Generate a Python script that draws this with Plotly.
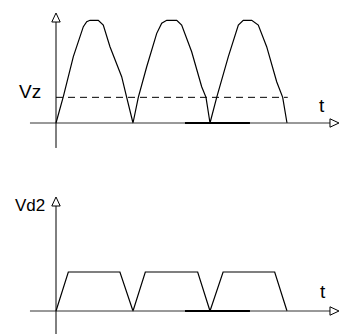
import plotly.graph_objects as go

# ---- data (time in arbitrary units, voltages in arbitrary units) ----
t_vin = [0, 0.95, 2.25, 3.55, 3.99, 4.42, 5.49, 6.14, 7.01, 8.53, 9.18, 10.0,
         10.69, 11.78, 13.08, 13.73, 14.38, 15.68, 16.32, 17.62, 18.92, 19.48, 20.0,
         20.87, 22.38, 23.68, 24.32, 25.42, 26.27, 27.36, 28.66, 29.44, 30.0]
v_vin = [0, 2.56, 6.46, 9.38, 9.87, 10.0, 10.0, 9.54, 7.43, 4.51, 2.50, 0,
         2.50, 5.48, 8.73, 9.71, 10.0, 10.0, 9.54, 6.94, 3.53, 2.50, 0,
         2.50, 6.46, 9.54, 10.0, 10.0, 9.54, 7.43, 4.02, 2.50, 0]

t_vd2 = [0, 1.6, 8.3, 10.0, 11.6, 18.4, 20.0, 21.7, 28.4, 30.0]
v_vd2 = [0, 2.5, 2.5, 0, 2.5, 2.5, 0, 2.5, 2.5, 0]

vz_level = 2.5
vz_span = [0, 30.1]

labels_top = ["Vz", "t"]
labels_bottom = ["Vd2", "t"]

# ---- figure ----
X_RANGE = [-7.273, 37.143]
Y1_RANGE = [-4.284, 11.977]
Y2_RANGE = [-1.474, 9.231]

fig = go.Figure()
line_style = dict(color="black", width=1.2)

fig.add_trace(go.Scatter(x=t_vin, y=v_vin, mode="lines", line=line_style,
                         xaxis="x", yaxis="y", hoverinfo="skip"))
fig.add_trace(go.Scatter(x=vz_span, y=[vz_level, vz_level], mode="lines",
                         line=dict(color="black", width=1, dash="7px,5px"),
                         xaxis="x", yaxis="y", hoverinfo="skip"))
fig.add_trace(go.Scatter(x=t_vd2, y=v_vd2, mode="lines", line=line_style,
                         xaxis="x", yaxis="y2", hoverinfo="skip"))

shapes = []
def axes_shapes(yref, ybottom, ytop_base, ytip, ypx):
    xpx = 7.7
    out = []
    out.append(dict(type="line", xref="x", yref=yref, x0=-3.38, x1=35.58, y0=0, y1=0,
                    line=dict(color="#333", width=1)))
    out.append(dict(type="line", xref="x", yref=yref, x0=16.75, x1=25.19, y0=0, y1=0,
                    line=dict(color="black", width=1.8)))
    hh = 4.2 / ypx
    out.append(dict(type="path", xref="x", yref=yref,
                    path=f"M 35.58 {hh} L 36.75 0 L 35.58 {-hh} Z",
                    fillcolor="white", line=dict(color="black", width=1)))
    out.append(dict(type="line", xref="x", yref=yref, x0=0, x1=0, y0=ybottom, y1=ytop_base,
                    line=dict(color="black", width=1)))
    hw = 4.2 / xpx
    out.append(dict(type="path", xref="x", yref=yref,
                    path=f"M {-hw} {ytop_base} L 0 {ytip} L {hw} {ytop_base} Z",
                    fillcolor="white", line=dict(color="black", width=1)))
    return out

shapes += axes_shapes("y", -2.43, (123 - 22) / 10.27, (123 - 13) / 10.27, 10.27)
shapes += axes_shapes("y2", -1.5, (311 - 206) / 15.6, (311 - 197) / 15.6, 15.6)

family = "Liberation Sans, Arial, Helvetica, sans-serif"
font = dict(family=family, size=19, color="black")
font_vd2 = dict(family=family, size=17, color="black")
annotations = [
    dict(x=-3.44, y=3.02, xref="x", yref="y", text=labels_top[0], showarrow=False,
         xanchor="center", yanchor="middle", font=font),
    dict(x=34.55, y=1.66, xref="x", yref="y", text=labels_top[1], showarrow=False,
         xanchor="center", yanchor="middle", font=font),
    dict(x=-3.38, y=6.76, xref="x", yref="y2", text=labels_bottom[0], showarrow=False,
         xanchor="center", yanchor="middle", font=font_vd2),
    dict(x=34.68, y=1.28, xref="x", yref="y2", text=labels_bottom[1], showarrow=False,
         xanchor="center", yanchor="middle", font=font),
]

hidden = dict(showgrid=False, zeroline=False, showticklabels=False, showline=False,
              ticks="", fixedrange=True)
fig.update_layout(
    width=342, height=334, autosize=False,
    margin=dict(l=0, r=0, t=0, b=0, pad=0),
    paper_bgcolor="white", plot_bgcolor="white",
    showlegend=False,
    xaxis=dict(range=X_RANGE, domain=[0, 1], anchor="y2", **hidden),
    yaxis=dict(range=Y1_RANGE, domain=[0.5, 1], anchor="x", **hidden),
    yaxis2=dict(range=Y2_RANGE, domain=[0, 0.5], anchor="x", **hidden),
    shapes=shapes,
    annotations=annotations,
)

fig.write_html("out.html", config={"displayModeBar": False, "staticPlot": True},
               post_script="document.body.style.margin='0';document.body.style.padding='0';document.body.style.overflow='hidden';")
